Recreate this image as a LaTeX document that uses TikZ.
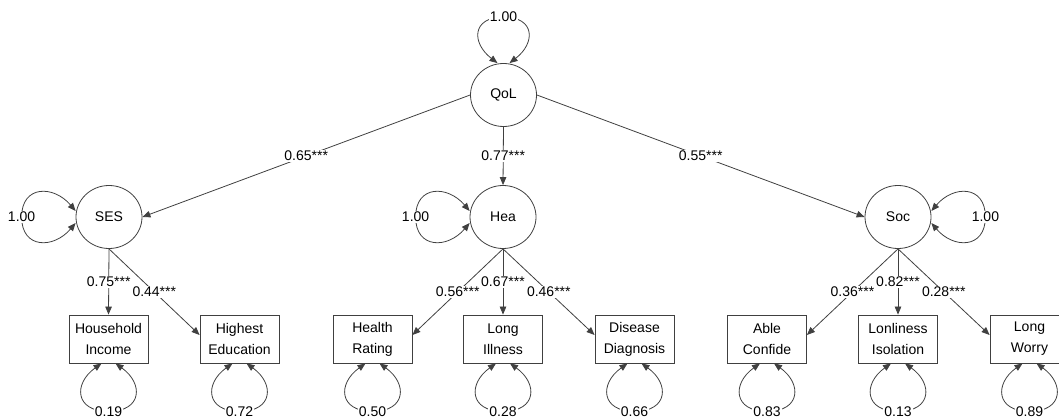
\documentclass[tikz,border=0pt]{standalone}
\usepackage{fontspec}
\setmainfont{Liberation Sans}
\usetikzlibrary{arrows.meta,shapes.geometric}

\begin{document}
\begin{tikzpicture}[x=1pt,y=1pt,
  font=\fontsize{14}{21}\selectfont,
  latent/.style={draw=black!75, line width=0.8pt, ellipse, minimum width=66pt, minimum height=63pt, inner sep=0pt},
  manifest/.style={draw=black!75, line width=0.8pt, rectangle, minimum width=79pt, minimum height=48pt, inner sep=0pt, align=center},
  regr/.style={draw=black!75, line width=0.8pt, -{Triangle[length=8pt,width=6.5pt]}},
  varloop/.style={draw=black!75, line width=0.8pt, {Triangle[length=8pt,width=6.5pt]}-{Triangle[length=8pt,width=6.5pt]}},
  coef/.style={fill=white, inner sep=1pt}]
% frame
\useasboundingbox (0,0) rectangle (1059,-419);
% latent vars
\node[latent] (qol) at (503.5,-95) {QoL};
\node[latent] (ses) at (109,-217) {SES};
\node[latent] (hea) at (503,-217) {Hea};
\node[latent] (soc) at (898,-217) {Soc};
% indicators
\node[manifest] (inc) at (108.5,-339) {Household\\Income};
\node[manifest] (edu) at (239.5,-339) {Highest\\Education};
\node[manifest] (rat) at (372.5,-339) {Health\\Rating};
\node[manifest] (ill) at (503,-339) {Long\\Illness};
\node[manifest] (dia) at (634.5,-339) {Disease\\Diagnosis};
\node[manifest] (con) at (767,-339) {Able\\Confide};
\node[manifest] (iso) at (898,-339) {Lonliness\\Isolation};
\node[manifest] (wor) at (1029.5,-339) {Long\\Worry};
% structural paths
\draw[regr] (qol.west) -- node[coef]{0.65***} (ses.east);
\draw[regr] (qol.south) -- node[coef]{0.77***} (hea.north);
\draw[regr] (qol.east) -- node[coef]{0.55***} (soc.west);
% loadings
\draw[regr] (ses.south) -- node[coef]{0.75***} (inc.north);
\draw[regr] (ses.south) -- node[coef]{0.44***} ([yshift=4pt]edu.west);
\draw[regr] (hea.south) -- node[coef]{0.56***} ([yshift=4pt]rat.east);
\draw[regr] (hea.south) -- node[coef]{0.67***} (ill.north);
\draw[regr] (hea.south) -- node[coef]{0.46***} ([yshift=4pt]dia.west);
\draw[regr] (soc.south) -- node[coef]{0.36***} ([yshift=4pt]con.east);
\draw[regr] (soc.south) -- node[coef]{0.82***} (iso.north);
\draw[regr] (soc.south) -- node[coef]{0.28***} ([yshift=4pt]wor.west);
% variances
\draw[varloop] ([xshift=-6pt]qol.north) .. controls +(-26,20) and +(-32,0) .. ++(6,46) node[coef]{1.00}
  .. controls +(32,0) and +(26,20) .. ([xshift=6pt]qol.north);
\draw[varloop] ([yshift=6pt]ses.west) .. controls +(-22,26) and +(0,32) .. ++(-54,-6) node[coef]{1.00}
  .. controls +(0,-32) and +(-22,-26) .. ([yshift=-6pt]ses.west);
\draw[varloop] ([yshift=6pt]hea.west) .. controls +(-22,26) and +(0,32) .. ++(-54,-6) node[coef]{1.00}
  .. controls +(0,-32) and +(-22,-26) .. ([yshift=-6pt]hea.west);
\draw[varloop] ([yshift=6pt]soc.east) .. controls +(22,26) and +(0,32) .. ++(54,-6) node[coef]{1.00}
  .. controls +(0,-32) and +(22,-26) .. ([yshift=-6pt]soc.east);
\foreach \b/\v in {inc/0.19, edu/0.72, rat/0.50, ill/0.28, dia/0.66, con/0.83, iso/0.13, wor/0.89}
  \draw[varloop] ([xshift=-7pt]\b.south) .. controls +(-28,-20) and +(-34,0) .. ++(7,-48) node[coef]{\v}
    .. controls +(34,0) and +(28,-20) .. ([xshift=7pt]\b.south);
\end{tikzpicture}
\end{document}
